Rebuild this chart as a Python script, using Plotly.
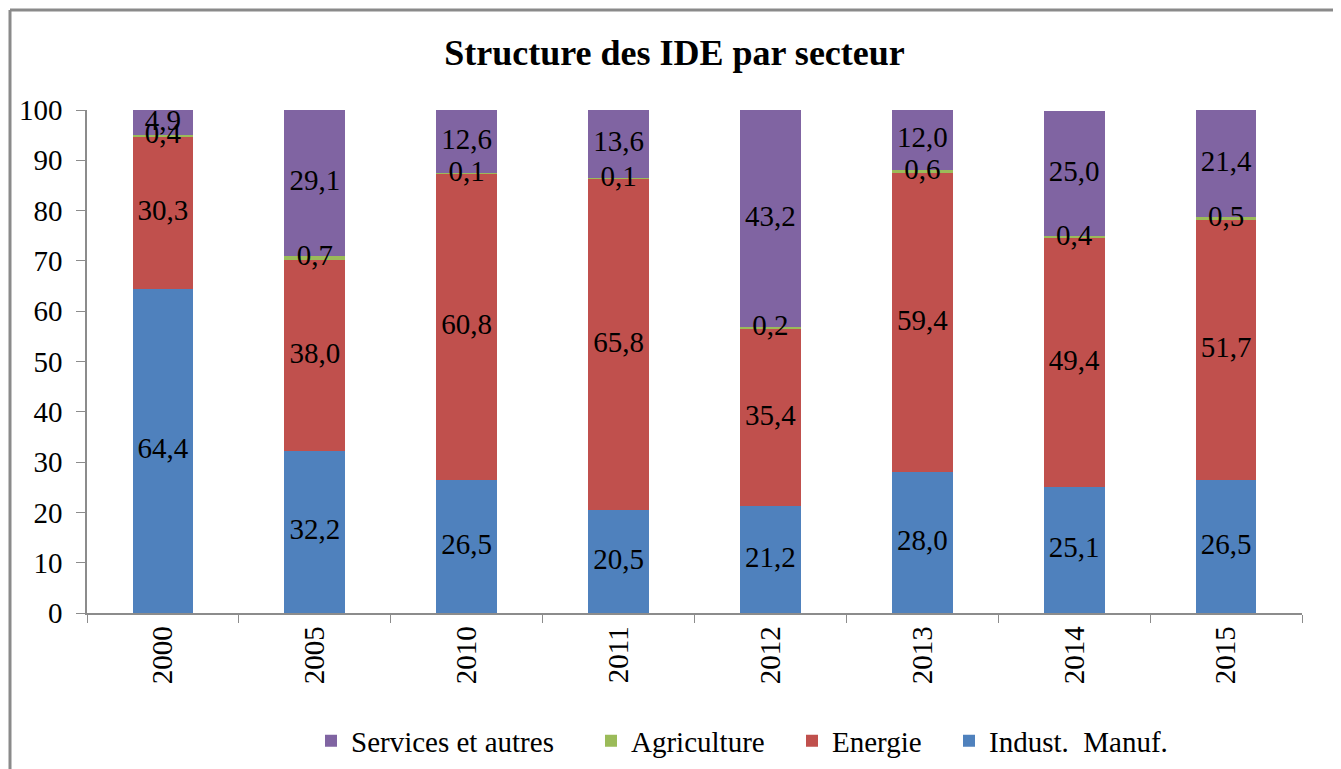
import plotly.graph_objects as go

years = ["2000", "2005", "2010", "2011", "2012", "2013", "2014", "2015"]
indust = [64.4, 32.2, 26.5, 20.5, 21.2, 28.0, 25.1, 26.5]
energie = [30.3, 38.0, 60.8, 65.8, 35.4, 59.4, 49.4, 51.7]
agriculture = [0.4, 0.7, 0.1, 0.1, 0.2, 0.6, 0.4, 0.5]
services = [4.9, 29.1, 12.6, 13.6, 43.2, 12.0, 25.0, 21.4]

series = [
    ("Indust.  Manuf.", indust, "#4F81BD"),
    ("Energie", energie, "#C0504D"),
    ("Agriculture", agriculture, "#9BBB59"),
    ("Services et autres", services, "#8064A2"),
]

FONT = "Liberation Serif, Times New Roman, serif"

# page body has an 8px default margin: compensate so the drawing lands where intended
OFF = 8
W, H = 1341 - OFF, 769 - OFF
L, T = 87 - OFF, 110 - OFF
PW, PH = 1215, 503
R, B = W - L - PW, H - T - PH
bx = (10 - OFF - L) / PW
by = 1 + (T - (10 - OFF)) / PH

# legend item left edges (page pixels), in order Indust, Energie, Agriculture, Services
legend_left = [949, 792, 591, 311]
legend_names = ["legend", "legend2", "legend3", "legend4"]

fig = go.Figure()
base = [0.0] * len(years)
label_x, label_y, label_t = [], [], []
for k, (name, vals, color) in enumerate(series):
    fig.add_trace(go.Bar(
        x=years, y=vals, name=name, legend=legend_names[k],
        marker=dict(color=color, line=dict(width=0)),
        hoverinfo="y+name",
    ))
    for i, v in enumerate(vals):
        label_x.append(years[i])
        label_y.append(base[i] + v / 2)
        label_t.append(f"{v:.1f}".replace(".", ","))
        base[i] += v

fig.add_trace(go.Scatter(
    x=label_x, y=label_y, text=label_t, mode="text",
    textfont=dict(family=FONT, size=29, color="black"),
    showlegend=False, hoverinfo="skip",
))

legends = {}
for k, ln in enumerate(legend_names):
    legends[ln] = dict(orientation="h", x=(legend_left[k] - 87) / PW, xanchor="left",
                       y=-(741 - 613) / PH, yanchor="middle",
                       font=dict(family=FONT, size=29, color="black"), itemwidth=30,
                       bgcolor="rgba(0,0,0,0)")

fig.update_layout(
    width=W, height=H,
    barmode="stack", bargap=0.6,
    plot_bgcolor="white", paper_bgcolor="white",
    margin=dict(l=L, r=R, t=T, b=B, autoexpand=False),
    font=dict(family=FONT, size=29, color="black"),
    title=dict(text="<b>Structure des IDE par secteur</b>", x=0.5, xanchor="center",
               y=1 - (52 - OFF) / H, yanchor="middle",
               font=dict(family=FONT, size=36, color="black")),
    xaxis=dict(type="category", tickangle=-90, showgrid=False, showline=True,
               linecolor="#8c8c8c", linewidth=1.5, ticks="outside", tickson="boundaries",
               ticklen=8, tickcolor="#8c8c8c", tickfont=dict(family=FONT, size=29)),
    yaxis=dict(range=[0, 100], dtick=10, showgrid=False, showline=True, linecolor="#8c8c8c",
               linewidth=1.5, ticks="outside", ticklen=9, tickcolor="#8c8c8c",
               tickfont=dict(family=FONT, size=29), zeroline=False, ticklabelstandoff=8),
    shapes=[
        dict(type="line", xref="paper", yref="paper", x0=bx, x1=2, y0=by, y1=by,
             line=dict(color="#8a8a8a", width=3)),
        dict(type="line", xref="paper", yref="paper", x0=bx, x1=bx, y0=by, y1=-2,
             line=dict(color="#8a8a8a", width=3)),
    ],
    **legends,
)

fig.write_html("out.html")
